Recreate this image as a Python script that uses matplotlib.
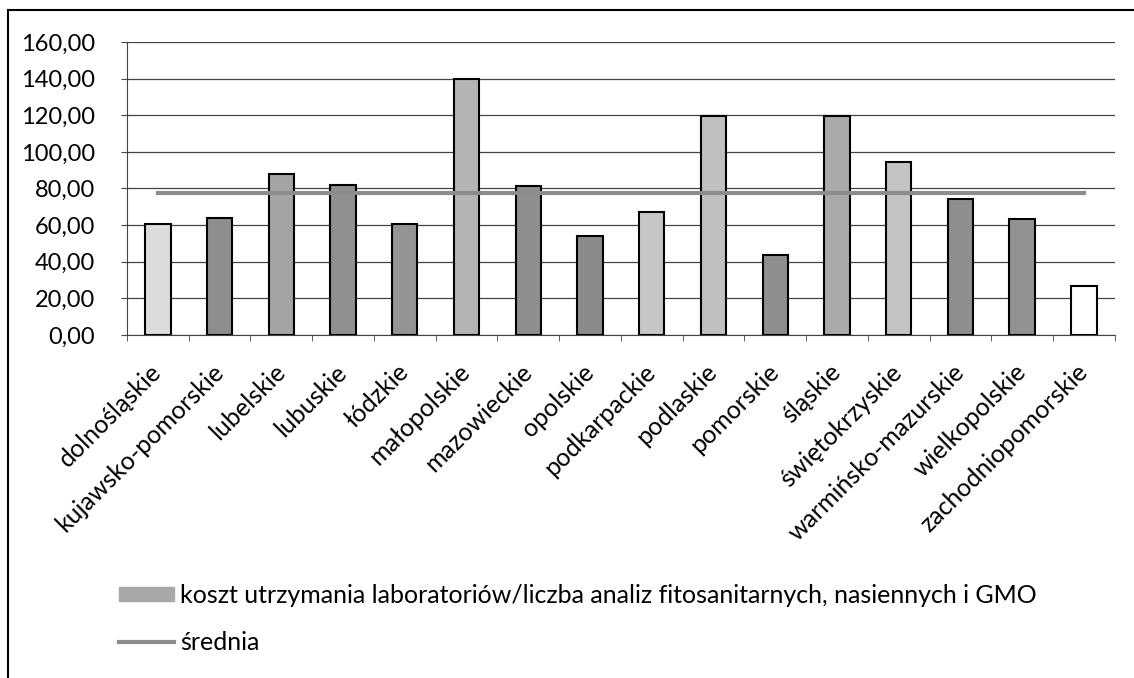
import matplotlib.pyplot as plt
from matplotlib.ticker import FuncFormatter, FixedLocator
from matplotlib.lines import Line2D
from matplotlib.transforms import ScaledTranslation
import numpy as np

plt.rcParams['font.family'] = ['Lato', 'DejaVu Sans']

# dane
wojewodztwa = ['dolnośląskie', 'kujawsko-pomorskie', 'lubelskie', 'lubuskie', 'łódzkie',
               'małopolskie', 'mazowieckie', 'opolskie', 'podkarpackie', 'podlaskie',
               'pomorskie', 'śląskie', 'świętokrzyskie', 'warmińsko-mazurskie',
               'wielkopolskie', 'zachodniopomorskie']
koszt = [60.5, 64.0, 88.0, 82.0, 60.5, 140.0, 81.5, 54.0, 67.0, 119.5,
         43.5, 119.5, 94.5, 74.5, 63.5, 27.0]
srednia = 77.6
kolory = ['#dcdcdc', '#8e8e8e', '#a4a4a4', '#909090', '#949494', '#b4b4b4', '#8e8e8e',
          '#8a8a8a', '#c6c6c6', '#c0c0c0', '#8e8e8e', '#aaaaaa', '#c4c4c4', '#8e8e8e',
          '#929292', '#ffffff']
yticks = [0, 20, 40, 60, 80, 100, 120, 140, 160]

fig = plt.figure(figsize=(11.34, 6.78), dpi=100)
ax = fig.add_axes([0.112, 0.506, 0.871, 0.432])

x = np.arange(len(wojewodztwa))
ax.bar(x, koszt, width=0.41, color=kolory, edgecolor='black', linewidth=1.5, zorder=3)
ax.plot(x, [srednia] * len(x), color='#8c8c8c', linewidth=3, zorder=4)

ax.set_xlim(-0.5, len(x) - 0.5)
ax.set_ylim(0, 160)
ax.set_yticks(yticks)
ax.yaxis.set_major_formatter(FuncFormatter(lambda v, p: f'{v:.2f}'.replace('.', ',')))
ax.grid(axis='y', color='#444444', linewidth=0.9, zorder=0)

ax.set_xticks(x)
ax.set_xticklabels(wojewodztwa, rotation=45, ha='right', va='center', rotation_mode='anchor')
przesun = ScaledTranslation(6 / 100, 0, fig.dpi_scale_trans)
for t in ax.get_xticklabels():
    t.set_transform(t.get_transform() + przesun)
ax.xaxis.set_minor_locator(FixedLocator(np.arange(-0.5, len(x), 1)))
ax.tick_params(axis='x', which='major', length=0, pad=24, labelsize=18)
ax.tick_params(axis='x', which='minor', length=4, color='#444444')
ax.tick_params(axis='y', length=4, pad=19, labelsize=17, color='#444444')

for s in ['top', 'right']:
    ax.spines[s].set_visible(False)
ax.spines['left'].set_color('#444444')
ax.spines['bottom'].set_color('#444444')

uchwyty = [plt.Rectangle((0, 0), 1, 1, facecolor='#a8a8a8', edgecolor='#a8a8a8'),
           Line2D([0], [0], color='#8c8c8c', linewidth=3)]
fig.legend(uchwyty,
           ['koszt utrzymania laboratoriów/liczba analiz fitosanitarnych, nasiennych i GMO', 'średnia'],
           loc='upper left', bbox_to_anchor=(119 / 1134, 1 - 584 / 678), frameon=False,
           borderpad=0, borderaxespad=0, fontsize=18, handlelength=2.2, handleheight=0.5,
           handletextpad=0.25, labelspacing=0.95)

# ramka wykresu
fig.add_artist(Line2D([8 / 1134, 1], [1 - 10 / 678, 1 - 10 / 678], color='black', linewidth=1.5))
fig.add_artist(Line2D([8 / 1134, 8 / 1134], [0, 1 - 10 / 678], color='black', linewidth=1.5))

fig.savefig('out.png', dpi=100)
